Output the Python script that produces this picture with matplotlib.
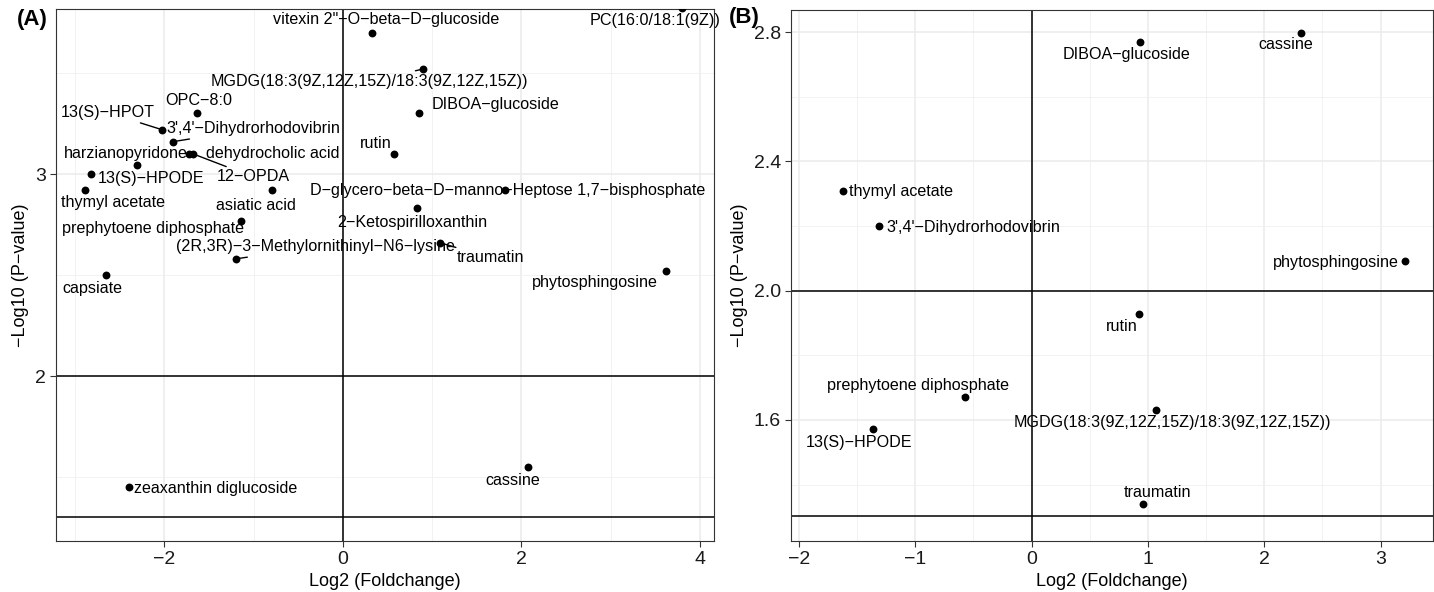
#!/usr/bin/env python

# Two volcano-style panels: -log10(P) against log2 fold change,
# with labelled metabolites and significance lines.

import numpy
import matplotlib
from matplotlib.backends.backend_agg import FigureCanvasAgg as FigureCanvas
from matplotlib.figure import Figure
import matplotlib.ticker as ticker

matplotlib.rcParams['font.family'] = ['Liberation Sans', 'DejaVu Sans']

# Panel A data
a_names = ['PC(16:0/18:1(9Z))', 'vitexin 2"-O-beta-D-glucoside',
           'MGDG(18:3(9Z,12Z,15Z)/18:3(9Z,12Z,15Z))', 'DIBOA-glucoside',
           'rutin', 'D-glycero-beta-D-manno-Heptose 1,7-bisphosphate',
           '2-Ketospirilloxanthin', 'traumatin', 'phytosphingosine',
           'cassine', 'zeaxanthin diglucoside', 'capsiate', '13(S)-HPOT',
           'OPC-8:0', "3',4'-Dihydrorhodovibrin", 'harzianopyridone',
           'dehydrocholic acid', '13(S)-HPODE', '12-OPDA', 'thymyl acetate',
           'asiatic acid', 'prephytoene diphosphate',
           '(2R,3R)-3-Methylornithinyl-N6-lysine']
a_lfc = [3.80, 0.33, 0.90, 0.85, 0.57, 1.82, 0.83, 1.09, 3.62, 2.07, -2.40,
         -2.65, -2.03, -1.63, -1.91, -2.31, -1.73, -2.82, -1.68, -2.89, -0.80,
         -1.14, -1.20]
a_logp = [3.82, 3.70, 3.52, 3.30, 3.10, 2.92, 2.83, 2.66, 2.52, 1.55, 1.45,
          2.50, 3.22, 3.30, 3.16, 3.045, 3.10, 3.00, 3.10, 2.92, 2.92, 2.77,
          2.58]

# Panel B data
b_names = ['DIBOA-glucoside', 'cassine', 'thymyl acetate',
           "3',4'-Dihydrorhodovibrin", 'phytosphingosine', 'rutin',
           'prephytoene diphosphate', 'MGDG(18:3(9Z,12Z,15Z)/18:3(9Z,12Z,15Z))',
           '13(S)-HPODE', 'traumatin']
b_lfc = [0.93, 2.32, -1.62, -1.31, 3.21, 0.92, -0.57, 1.07, -1.36, 0.96]
b_logp = [2.771, 2.798, 2.31, 2.20, 2.091, 1.928, 1.672, 1.632, 1.571, 1.34]

# Label placement (pixel offsets from the point), repel-style
a_offsets = {'PC(16:0/18:1(9Z))': (-27, -12),
             'vitexin 2"-O-beta-D-glucoside': (14, 13),
             'MGDG(18:3(9Z,12Z,15Z)/18:3(9Z,12Z,15Z))': (-54, -12),
             'DIBOA-glucoside': (77, 9),
             'rutin': (-18, 10),
             'D-glycero-beta-D-manno-Heptose 1,7-bisphosphate': (2, 0),
             '2-Ketospirilloxanthin': (-5, -14),
             'traumatin': (50, -15),
             'phytosphingosine': (-71, -11),
             'cassine': (-15, -14),
             'zeaxanthin diglucoside': (87, -1),
             'capsiate': (-14, -13),
             '13(S)-HPOT': (-54, 17),
             'OPC-8:0': (1, 13),
             "3',4'-Dihydrorhodovibrin": (81, 13),
             'harzianopyridone': (-11, 11),
             'dehydrocholic acid': (84, 0),
             '13(S)-HPODE': (60, -4),
             '12-OPDA': (60, -23),
             'thymyl acetate': (28, -12),
             'asiatic acid': (-16, -15),
             'prephytoene diphosphate': (-88, -8),
             '(2R,3R)-3-Methylornithinyl-N6-lysine': (80, 12)}
a_segments = ['MGDG(18:3(9Z,12Z,15Z)/18:3(9Z,12Z,15Z))', 'traumatin',
              '13(S)-HPOT', "3',4'-Dihydrorhodovibrin", '12-OPDA',
              '(2R,3R)-3-Methylornithinyl-N6-lysine']

b_offsets = {'DIBOA-glucoside': (-13, -13),
             'cassine': (-16, -12),
             'thymyl acetate': (58, -1),
             "3',4'-Dihydrorhodovibrin": (94, -1),
             'phytosphingosine': (-69, -1),
             'rutin': (-17, -13),
             'prephytoene diphosphate': (-47, 11),
             'MGDG(18:3(9Z,12Z,15Z)/18:3(9Z,12Z,15Z))': (16, -13),
             '13(S)-HPODE': (-14, -13),
             'traumatin': (14, 11)}
b_segments = ['prephytoene diphosphate']

MINUS = '\u2212'
p05 = -numpy.log10(0.05)

fig = Figure(figsize=(14.34, 5.92), dpi=100, facecolor='white')
canvas = FigureCanvas(fig)


def style_axes(ax, xlim, ylim, xstep, ystep, yfmt):
    ax.set_xlim(xlim)
    ax.set_ylim(ylim)
    ax.xaxis.set_major_locator(ticker.MultipleLocator(xstep))
    ax.xaxis.set_minor_locator(ticker.MultipleLocator(xstep / 2))
    ax.yaxis.set_major_locator(ticker.MultipleLocator(ystep))
    ax.yaxis.set_minor_locator(ticker.MultipleLocator(ystep / 2))
    ax.yaxis.set_major_formatter(ticker.FormatStrFormatter(yfmt))
    ax.grid(which='major', color='#EBEBEB', linewidth=1.1)
    ax.grid(which='minor', color='#F0F0F0', linewidth=0.6)
    ax.set_axisbelow(True)
    ax.tick_params(which='minor', length=0)
    ax.tick_params(which='major', length=4, width=0.8, color='#333333',
                   labelsize=14, labelcolor='#1A1A1A', pad=3)
    for s in ax.spines.values():
        s.set_color('#333333')
        s.set_linewidth(0.8)
    # zero fold change and the two P-value cut-offs
    ax.axvline(0, color='black', linewidth=1.1, zorder=1.5)
    ax.axhline(2, color='black', linewidth=1.1, zorder=1.5)
    ax.axhline(p05, color='black', linewidth=1.1, zorder=1.5)
    ax.set_xlabel('Log2 (Foldchange)', fontsize=13, labelpad=4)
    ax.set_ylabel(MINUS + 'Log10 (P' + MINUS + 'value)', fontsize=13,
                  labelpad=4)


def label_points(ax, names, lfc, logp, offsets, segments):
    ax.scatter(lfc, logp, s=32, color='black', zorder=3, linewidths=0)
    for name, x, y in zip(names, lfc, logp):
        dx, dy = offsets[name]
        props = None
        if name in segments:
            props = dict(arrowstyle='-', color='black', linewidth=1.0,
                         shrinkA=0, shrinkB=0)
        ax.annotate(name.replace('-', MINUS), xy=(x, y), xytext=(dx, dy),
                    textcoords='offset pixels', ha='center', va='center',
                    fontsize=11.6, color='black', arrowprops=props,
                    zorder=4, annotation_clip=False)


ax_a = fig.add_axes([0.0388, 0.0861, 0.4591, 0.8986])
style_axes(ax_a, (-3.22, 4.16), (1.183, 3.817), 2, 1, '%d')
label_points(ax_a, a_names, a_lfc, a_logp, a_offsets, a_segments)

ax_b = fig.add_axes([0.5513, 0.0861, 0.4479, 0.8970])
style_axes(ax_b, (-2.073, 3.45), (1.225, 2.869), 1, 0.4, '%.1f')
label_points(ax_b, b_names, b_lfc, b_logp, b_offsets, b_segments)

fig.text(17 / 1434, 1 - 19 / 592, '(A)', fontsize=16, fontweight='bold',
         ha='left', va='center')
fig.text(729 / 1434, 1 - 17 / 592, '(B)', fontsize=16, fontweight='bold',
         ha='left', va='center')

fig.savefig('out.png')
